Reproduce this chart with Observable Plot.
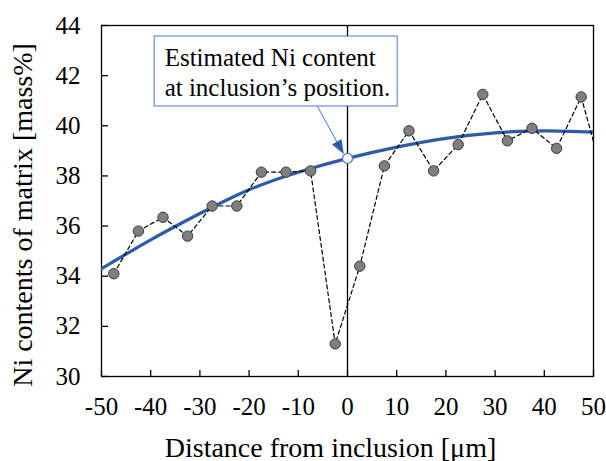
<!DOCTYPE html>
<html>
<head>
<meta charset="utf-8">
<script src="https://cdn.jsdelivr.net/npm/d3@7"></script>
<script src="https://cdn.jsdelivr.net/npm/@observablehq/plot@0.6"></script>
<style>
  html, body { margin: 0; padding: 0; background: #fff; font-family: "Liberation Serif"; }
  #chart { width: 606px; height: 461px; }
</style>
</head>
<body>
<div id="chart"></div>
<script>
// Measured points (distance µm, Ni mass%)
const distance = [-47.5, -42.5, -37.5, -32.5, -27.5, -22.5, -17.5, -12.5, -7.5, -2.5,
                  2.5, 7.5, 12.5, 17.5, 22.5, 27.5, 32.5, 37.5, 42.5, 47.5, 52.5];
const niContent = [34.1, 35.8, 36.35, 35.6, 36.8, 36.8, 38.15, 38.15, 38.2, 31.3,
                   34.4, 38.4, 39.8, 38.2, 39.25, 41.25, 39.4, 39.9, 39.1, 41.15, 37.6];

// Fitted (blue) curve
const fitX = [-50, -40, -30, -20, -10, 0, 10, 20, 30, 40, 50];
const fitY = [34.3, 35.45, 36.5, 37.45, 38.15, 38.7, 39.15, 39.5, 39.72, 39.8, 39.75];

// Estimated value at the inclusion position
const estX = [0];
const estY = [38.7];

// Axis ticks
const xTicks = [-50, -40, -30, -20, -10, 0, 10, 20, 30, 40, 50];
const yTicks = [30, 32, 34, 36, 38, 40, 42, 44];

// Callout
const calloutLines = ["Estimated Ni content", "at inclusion\u2019s position."];
const calloutBox = [{x1: -39.2, x2: 10.2, y1: 40.77, y2: 43.56}];
const calloutArrow = [{x1: -6.1, y1: 40.77, x2: -1.63, y2: 39.17}];
const arrowHead = [{x: -1.63, y: 39.17}];

const measured = distance.map((d, i) => ({x: d, y: niContent[i]}));
const fit = fitX.map((d, i) => ({x: d, y: fitY[i]}));
const est = estX.map((d, i) => ({x: d, y: estY[i]}));

const serif = "Liberation Serif";
const blue = "#2C5BAA";
const calloutBlue = "#4A78C8";

// Elongated (isosceles) arrowhead symbol, tip pointing up before rotation
const arrowSymbol = {
  draw(context, size) {
    const r = Math.sqrt(size / Math.PI);
    const h = 2.2 * r, w = 1.7 * r;
    context.moveTo(0, -0.6 * h);
    context.lineTo(w / 2, 0.4 * h);
    context.lineTo(-w / 2, 0.4 * h);
    context.closePath();
  }
};

const frameW = 606 - 101 - 13;
const frameH = 461 - 25 - 85;

const chart = Plot.plot({
  width: 606,
  height: 461,
  marginLeft: 101,
  marginRight: 13,
  marginTop: 25,
  marginBottom: 85,
  x: {domain: [-50, 50]},
  y: {domain: [30, 44]},
  marks: [
    Plot.axisX({ticks: xTicks, tickSize: 0, tickPadding: 21, fontSize: 25, fontFamily: serif, label: null, tickFormat: d => String(d)}),
    Plot.axisY({ticks: yTicks, tickSize: 0, tickPadding: 21, fontSize: 25, fontFamily: serif, label: null}),
    Plot.tickX(xTicks, {x: d => d, insetTop: frameH - 6, stroke: "#000", strokeWidth: 1.3}),
    Plot.tickY(yTicks, {y: d => d, insetRight: frameW - 7, stroke: "#000", strokeWidth: 1.3}),
    Plot.frame({stroke: "#000", strokeWidth: 1.3}),
    Plot.ruleX(estX, {stroke: "#000", strokeWidth: 1.3}),
    Plot.line(fit, {x: "x", y: "y", curve: "natural", stroke: blue, strokeWidth: 3.2, clip: true}),
    Plot.line(measured, {x: "x", y: "y", stroke: "#000", strokeWidth: 1.2, strokeDasharray: "4,3", clip: true}),
    Plot.dot(measured, {x: "x", y: "y", r: 5.2, fill: "#7F7F7F", stroke: "#3C3C3C", strokeWidth: 1, clip: true}),
    Plot.dot(est, {x: "x", y: "y", r: 5, fill: "#fff", stroke: calloutBlue, strokeWidth: 1.3}),
    Plot.rect(calloutBox, {x1: "x1", x2: "x2", y1: "y1", y2: "y2", fill: "#fff", stroke: calloutBlue, strokeWidth: 1}),
    Plot.link(calloutArrow, {x1: "x1", y1: "y1", x2: "x2", y2: "y2", stroke: calloutBlue, strokeWidth: 1}),
    Plot.dot(arrowHead, {x: "x", y: "y", symbol: arrowSymbol, r: 6, rotate: 150, fill: blue, stroke: blue, strokeWidth: 0.5}),
    Plot.text([calloutLines.join("\n")], {
      x: calloutBox[0].x1, y: calloutBox[0].y2, text: d => d, fontFamily: serif,
      textAnchor: "start", lineAnchor: "top", dx: 10, dy: 8, fontSize: 25, lineHeight: 1.2, fill: "#000"
    }),
    Plot.text(["Distance from inclusion [\u03bcm]"], {
      frameAnchor: "bottom", text: d => d, fontFamily: serif, textAnchor: "middle", lineAnchor: "bottom", dy: 80, dx: -17, fontSize: 28, fill: "#000"
    }),
    Plot.text(["Ni contents of matrix [mass%]"], {
      frameAnchor: "left", text: d => d, fontFamily: serif, rotate: -90, textAnchor: "middle", lineAnchor: "middle", dx: -78, dy: 14, fontSize: 28, fill: "#000"
    })
  ]
});
document.getElementById("chart").appendChild(chart);
</script>
</body>
</html>
